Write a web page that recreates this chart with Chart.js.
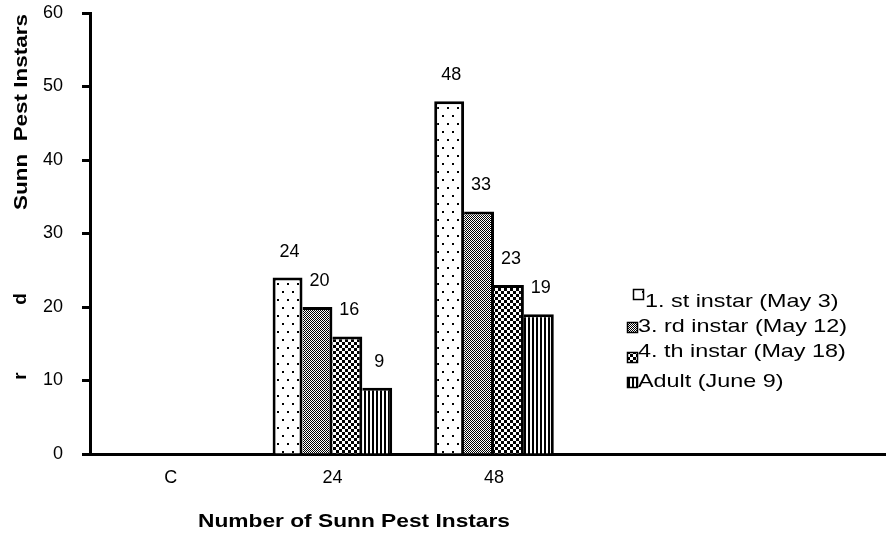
<!DOCTYPE html>
<html lang="en">
<head>
  <meta charset="UTF-8">
  <title>Sunn Pest Instars</title>
  <script src="https://cdn.jsdelivr.net/npm/chart.js@4.4.0/dist/chart.umd.min.js"></script>
  <style>
    html, body { margin: 0; padding: 0; background: #fff; overflow: hidden; }
    /* a little wider than the window so the x axis runs off the right edge like the original */
    #wrap { width: 898px; height: 535px; }
  </style>
</head>
<body>
  <div id="wrap"><canvas id="pestChart"></canvas></div>

  <script>
    // Data
    const categories = ['C', '24', '48', '', ''];
    const seriesNames = ['1. st instar (May 3)', '3. rd instar (May 12)', '4. th instar (May 18)', 'Adult (June 9)'];
    const firstInstar = [null, 24, 48];
    const thirdInstar = [null, 20, 33];
    const fourthInstar = [null, 16, 23];
    const adult = [null, 9, 19];
    const yTicks = [0, 10, 20, 30, 40, 50, 60];

    const FONT = '"Liberation Sans", Arial, sans-serif';

    // Pattern fills, black on white
    function makePattern(w, h, draw) {
      const c = document.createElement('canvas');
      c.width = w; c.height = h;
      const g = c.getContext('2d');
      g.fillStyle = '#fff';
      g.fillRect(0, 0, w, h);
      g.fillStyle = '#000';
      draw(g);
      return c.getContext('2d').createPattern(c, 'repeat');
    }
    const ctx = document.getElementById('pestChart').getContext('2d');
    const dots = makePattern(10, 16, g => { g.fillRect(2, 3, 2, 2); g.fillRect(7, 11, 2, 2); });
    const fineCheck = makePattern(2, 2, g => { g.fillRect(0, 0, 1, 1); g.fillRect(1, 1, 1, 1); });
    const bigCheck = makePattern(6, 6, g => { g.fillRect(0, 0, 3, 3); g.fillRect(3, 3, 3, 3); });
    const stripes = makePattern(4, 1, g => { g.fillRect(0, 0, 2, 1); });
    const fills = [dots, fineCheck, bigCheck, stripes];

    const values = [firstInstar, thirdInstar, fourthInstar, adult];
    const datasets = values.map((v, i) => ({
      label: seriesNames[i],
      data: v,
      backgroundColor: fills[i],
      borderColor: '#000',
      borderWidth: { left: i === 0 ? 3 : 0, top: 3, right: 3, bottom: 0 },
      borderSkipped: 'bottom',
      categoryPercentage: 0.74,
      barPercentage: 1.0
    }));

    // value labels above the bars
    const valueLabels = {
      id: 'valueLabels',
      afterDatasetsDraw(chart) {
        const c = chart.ctx;
        c.save();
        c.font = '18px ' + FONT;
        c.fillStyle = '#000';
        c.textAlign = 'center';
        c.textBaseline = 'middle';
        chart.data.datasets.forEach((ds, i) => {
          chart.getDatasetMeta(i).data.forEach((bar, j) => {
            const v = ds.data[j];
            if (v == null) return;
            c.fillText(String(v), bar.x + 2, bar.y - 26);
          });
        });
        c.restore();
      }
    };

    // axis titles, stray letters and the legend
    const extras = {
      id: 'extras',
      afterDraw(chart) {
        const c = chart.ctx;
        c.save();
        c.fillStyle = '#000';
        c.textAlign = 'center';
        c.textBaseline = 'middle';
        c.font = 'bold 19px ' + FONT;

        // x title (stretched like the original)
        let t = 'Number of Sunn Pest Instars';
        let w = c.measureText(t).width;
        c.save();
        c.translate(354, 522);
        c.scale(312 / w, 1);
        c.fillText(t, 0, 0);
        c.restore();

        // y title
        t = 'Sunn  Pest Instars';
        w = c.measureText(t).width;
        c.save();
        c.translate(22, 112);
        c.rotate(-Math.PI / 2);
        c.scale(196 / w, 1);
        c.fillText(t, 0, 0);
        c.restore();

        // stray letters next to the y axis
        [['d', 21, 299], ['r', 21, 376]].forEach(([s, x, y]) => {
          c.save();
          c.translate(x, y);
          c.rotate(-Math.PI / 2);
          c.fillText(s, 0, 0);
          c.restore();
        });

        // legend
        const items = [
          { sx: 633, sy: 289, tx: 645, ty: 302 },
          { sx: 627, sy: 322, tx: 638, ty: 327 },
          { sx: 627, sy: 352, tx: 638, ty: 352 },
          { sx: 627, sy: 377, tx: 638, ty: 382 }
        ];
        c.font = '19px ' + FONT;
        c.textAlign = 'left';
        items.forEach((it, i) => {
          c.fillStyle = fills[i];
          c.fillRect(it.sx, it.sy, 10, 10);
          c.strokeStyle = '#000';
          c.lineWidth = 1.5;
          c.strokeRect(it.sx + 0.5, it.sy + 0.5, 10, 10);
          c.fillStyle = '#000';
          c.save();
          c.translate(it.tx, it.ty);
          c.scale(1.23, 1);
          c.fillText(seriesNames[i], 0, 0);
          c.restore();
        });
        c.restore();
      }
    };

    new Chart(ctx, {
      type: 'bar',
      data: { labels: categories, datasets: datasets },
      options: {
        responsive: true,
        maintainAspectRatio: false,
        animation: false,
        layout: { padding: 0 },
        plugins: {
          legend: { display: false },
          tooltip: { enabled: false }
        },
        scales: {
          x: {
            grid: { display: false, drawTicks: false },
            border: { display: true, color: '#000', width: 3 },
            ticks: { color: '#000', font: { family: FONT, size: 18 }, padding: 13, maxRotation: 0 },
            afterFit(scale) { scale.height = 81; }
          },
          y: {
            min: 0,
            max: 60,
            grid: { drawOnChartArea: false, drawTicks: true, tickLength: 8, tickWidth: 3, color: '#000' },
            border: { display: true, color: '#000', width: 3 },
            afterBuildTicks(scale) { scale.ticks = yTicks.map(v => ({ value: v })); },
            ticks: { color: '#000', font: { family: FONT, size: 18 }, padding: 19 },
            afterFit(scale) {
              scale.width = 90;
              // keep the 60 tick near the top edge
              scale.paddingTop = 13;
              scale.paddingBottom = 0;
            }
          }
        }
      },
      plugins: [valueLabels, extras]
    });
  </script>
</body>
</html>
